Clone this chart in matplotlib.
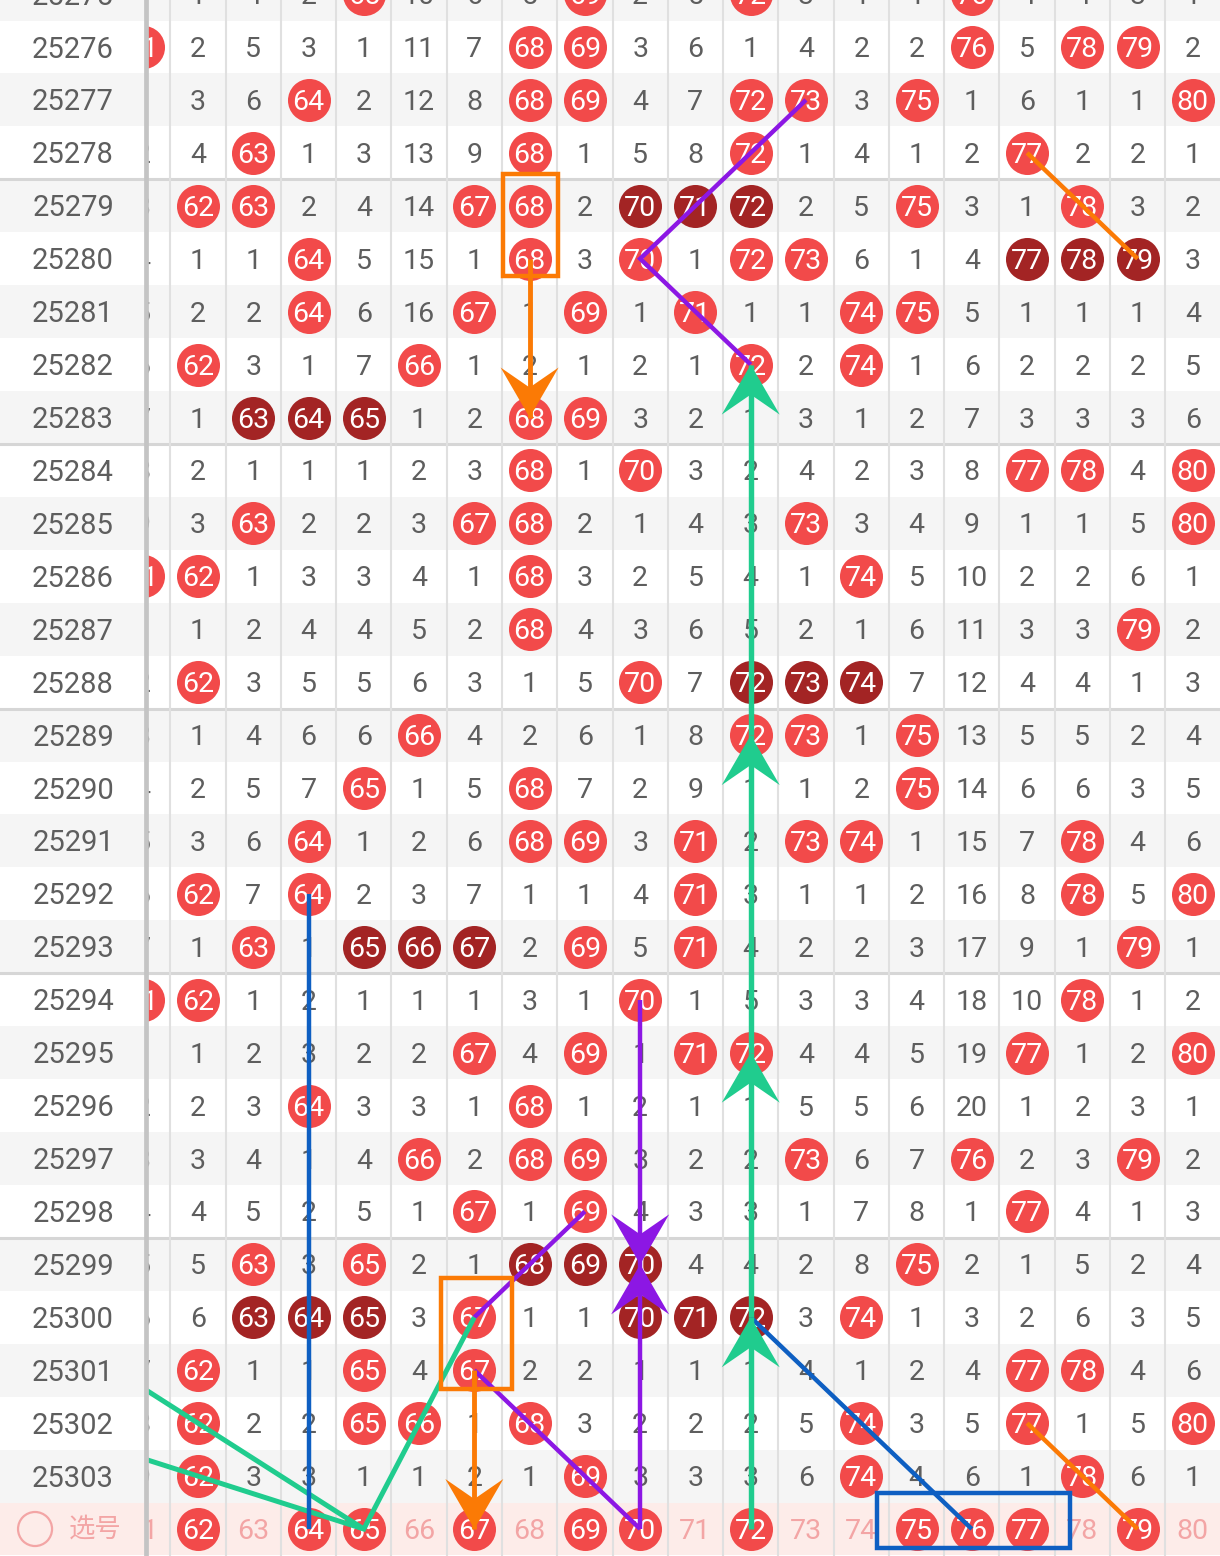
import matplotlib.pyplot as plt
from matplotlib.patches import Rectangle, Polygon

# issue numbers shown on the left, PICK is the selection row at the bottom
issues = list(range(25275, 25304))
PICK = 25304
numbers = list(range(61, 81))

# missed counts per issue for numbers 61..80, 0 = drawn in that issue
omission = [
    [9, 1, 4, 2, 0, 10, 6, 5, 0, 2, 5, 0, 3, 1, 1, 0, 4, 4, 3, 1],   # 25275
    [0, 2, 5, 3, 1, 11, 7, 0, 0, 3, 6, 1, 4, 2, 2, 0, 5, 0, 0, 2],   # 25276
    [1, 3, 6, 0, 2, 12, 8, 0, 0, 4, 7, 0, 0, 3, 0, 1, 6, 1, 1, 0],   # 25277
    [2, 4, 0, 1, 3, 13, 9, 0, 1, 5, 8, 0, 1, 4, 1, 2, 0, 2, 2, 1],   # 25278
    [3, 0, 0, 2, 4, 14, 0, 0, 2, 0, 0, 0, 2, 5, 0, 3, 1, 0, 3, 2],   # 25279
    [4, 1, 1, 0, 5, 15, 1, 0, 3, 0, 1, 0, 0, 6, 1, 4, 0, 0, 0, 3],   # 25280
    [5, 2, 2, 0, 6, 16, 0, 1, 0, 1, 0, 1, 1, 0, 0, 5, 1, 1, 1, 4],   # 25281
    [6, 0, 3, 1, 7, 0, 1, 2, 1, 2, 1, 0, 2, 0, 1, 6, 2, 2, 2, 5],    # 25282
    [7, 1, 0, 0, 0, 1, 2, 0, 0, 3, 2, 1, 3, 1, 2, 7, 3, 3, 3, 6],    # 25283
    [8, 2, 1, 1, 1, 2, 3, 0, 1, 0, 3, 2, 4, 2, 3, 8, 0, 0, 4, 0],    # 25284
    [9, 3, 0, 2, 2, 3, 0, 0, 2, 1, 4, 3, 0, 3, 4, 9, 1, 1, 5, 0],    # 25285
    [0, 0, 1, 3, 3, 4, 1, 0, 3, 2, 5, 4, 1, 0, 5, 10, 2, 2, 6, 1],   # 25286
    [1, 1, 2, 4, 4, 5, 2, 0, 4, 3, 6, 5, 2, 1, 6, 11, 3, 3, 0, 2],   # 25287
    [2, 0, 3, 5, 5, 6, 3, 1, 5, 0, 7, 0, 0, 0, 7, 12, 4, 4, 1, 3],   # 25288
    [3, 1, 4, 6, 6, 0, 4, 2, 6, 1, 8, 0, 0, 1, 0, 13, 5, 5, 2, 4],   # 25289
    [4, 2, 5, 7, 0, 1, 5, 0, 7, 2, 9, 1, 1, 2, 0, 14, 6, 6, 3, 5],   # 25290
    [5, 3, 6, 0, 1, 2, 6, 0, 0, 3, 0, 2, 0, 0, 1, 15, 7, 0, 4, 6],   # 25291
    [6, 0, 7, 0, 2, 3, 7, 1, 1, 4, 0, 3, 1, 1, 2, 16, 8, 0, 5, 0],   # 25292
    [7, 1, 0, 1, 0, 0, 0, 2, 0, 5, 0, 4, 2, 2, 3, 17, 9, 1, 0, 1],   # 25293
    [0, 0, 1, 2, 1, 1, 1, 3, 1, 0, 1, 5, 3, 3, 4, 18, 10, 0, 1, 2],  # 25294
    [1, 1, 2, 3, 2, 2, 0, 4, 0, 1, 0, 0, 4, 4, 5, 19, 0, 1, 2, 0],   # 25295
    [2, 2, 3, 0, 3, 3, 1, 0, 1, 2, 1, 1, 5, 5, 6, 20, 1, 2, 3, 1],   # 25296
    [3, 3, 4, 1, 4, 0, 2, 0, 0, 3, 2, 2, 0, 6, 7, 0, 2, 3, 0, 2],    # 25297
    [4, 4, 5, 2, 5, 1, 0, 1, 0, 4, 3, 3, 1, 7, 8, 1, 0, 4, 1, 3],    # 25298
    [5, 5, 0, 3, 0, 2, 1, 0, 0, 0, 4, 4, 2, 8, 0, 2, 1, 5, 2, 4],    # 25299
    [6, 6, 0, 0, 0, 3, 0, 1, 1, 0, 0, 0, 3, 0, 1, 3, 2, 6, 3, 5],    # 25300
    [7, 0, 1, 1, 0, 4, 0, 2, 2, 1, 1, 1, 4, 1, 2, 4, 0, 0, 4, 6],    # 25301
    [8, 0, 2, 2, 0, 0, 1, 0, 3, 2, 2, 2, 5, 0, 3, 5, 0, 1, 5, 0],    # 25302
    [9, 0, 3, 3, 1, 1, 2, 1, 0, 3, 3, 3, 6, 0, 4, 6, 1, 0, 6, 1],    # 25303
]

picked = [62, 64, 65, 67, 69, 70, 72, 75, 76, 77, 79]

# hand drawn marks: (number, issue) points
orange_paths = [[(77, 25278), (79, 25280)], [(77, 25302), (79, PICK)]]
orange_arrows = [((68, 25280), (68, 25283)), ((67, 25301), (67, PICK))]
purple_paths = [[(73, 25277), (70, 25280), (72, 25282)],
                [(67, 25300), (69, 25298)],
                [(67, 25301), (70, PICK)]]
purple_arrows = [((70, 25294), (70, 25299)), ((70, PICK), (70, 25299))]
green_arrows = [((72, PICK), (72, 25300)), ((72, 25300), (72, 25295)),
                ((72, 25295), (72, 25289)), ((72, 25289), (72, 25282))]
green_paths = [[(59, 25300), (65, PICK)], [(59, 25302), (65, PICK), (67, 25300)]]
blue_paths = [[(64, 25292), (64, PICK)], [(72, 25300), (76, PICK)]]
# boxes: (first number, last number, first issue, last issue)
orange_boxes = [(68, 68, 25279, 25280), (67, 67, 25300, 25301)]
blue_boxes = [(75, 77, PICK, PICK)]

RED = '#f24a4a'
DARK = '#a32424'
GRAY = '#5e5e5e'
PINK_TXT = '#f3a5a5'
PINK_BG = '#fdece9'
ORANGE = '#fb7a05'
PURPLE = '#8c17e4'
GREEN = '#20cc8e'
BLUE = '#0e5fc2'

plt.rcParams['font.family'] = ['Roboto', 'DejaVu Sans']

W, H = 1220, 1556
LEFT = 146
fig = plt.figure(figsize=(W / 100, H / 100), dpi=100)
ax = fig.add_axes([LEFT / W, 0, 1 - LEFT / W, 1])
ax_lab = fig.add_axes([0, 0, LEFT / W, 1])
ax_lab.set_zorder(3)

x0, x1 = 61.06, 80.49
y0, y1 = 29.51, 0.112
ax.set_xlim(x0, x1)
ax.set_ylim(y0, y1)
ax_lab.set_xlim(0, 1)
ax_lab.set_ylim(y0, y1)
px_x = (W - LEFT) / (x1 - x0)
px_y = H / (y0 - y1)
TY = 2.5 / px_y  # text sits a touch lower than the box centre


def row(issue):
    return issue - issues[0]


for a in (ax, ax_lab):
    a.set_xticks([])
    a.set_yticks([])
    for s in a.spines.values():
        s.set_visible(False)
    for i in range(len(issues)):
        a.axhspan(i - 0.5, i + 0.5, color='#f5f5f5' if i % 2 == 0 else 'white',
                  lw=0, zorder=0)
    a.axhspan(row(PICK) - 0.5, row(PICK) + 0.5, color=PINK_BG, lw=0, zorder=0)
    for k in range(1, 6):
        a.axhline(row(25278) + 0.5 + 5 * (k - 1), color='#d6d6d6', lw=2.2, zorder=1)

ax_lab.spines['right'].set_visible(True)
ax_lab.spines['right'].set_color('#c4c4c4')
ax_lab.spines['right'].set_linewidth(3.4)

for n in numbers[:-1]:
    ax.axvline(n + 0.5, color='#e0e0e0', lw=1.5, zorder=1)

CIRCLE = 960
FS = 20.5

for i, issue in enumerate(issues):
    vals = omission[i]
    hits = {n for n, v in zip(numbers, vals) if v == 0}
    for n, v in zip(numbers, vals):
        if v == 0:
            run = ({n - 1, n + 1} <= hits or {n - 2, n - 1} <= hits
                   or {n + 1, n + 2} <= hits)
            ax.scatter(n, i, s=CIRCLE, color=DARK if run else RED, lw=0, zorder=2)
            ax.text(n, i + TY, str(n), ha='center', va='center', fontsize=FS,
                    color='white', zorder=3, clip_on=True)
        else:
            ax.text(n, i + TY, str(v), ha='center', va='center', fontsize=FS,
                    color=GRAY, zorder=3, clip_on=True)
    ax_lab.text(0.5, i + TY, str(issue), ha='center', va='center', fontsize=FS + 0.5,
                color=GRAY, zorder=3, clip_on=True)

rp = row(PICK)
for n in numbers:
    if n in picked:
        ax.scatter(n, rp, s=CIRCLE, color=RED, lw=0, zorder=2)
        ax.text(n, rp + TY, str(n), ha='center', va='center', fontsize=FS,
                color='white', zorder=3, clip_on=True)
    else:
        ax.text(n, rp + TY, str(n), ha='center', va='center', fontsize=FS,
                color=PINK_TXT, zorder=3, clip_on=True)
ax_lab.scatter(0.24, rp, s=600, facecolor='none', edgecolor=PINK_TXT, lw=1.6, zorder=3)
ax_lab.text(0.65, rp, '选号', ha='center', va='center', fontsize=19,
            color=PINK_TXT, family=['Noto Sans CJK SC', 'DejaVu Sans'], zorder=3)


def path(points, color, lw=3.2):
    xs = [p[0] for p in points]
    ys = [row(p[1]) for p in points]
    ax.plot(xs, ys, color=color, lw=lw, solid_capstyle='butt',
            solid_joinstyle='miter', zorder=5)


def arrow(start, end, color, lw=3.2):
    path([start, end], color, lw)
    c, r = end[0], row(end[1])
    back = 1 if row(start[1]) > r else -1
    half, length, notch = 29, 50, 30
    pts = [(c, r), (c + half / px_x, r + back * length / px_y),
           (c, r + back * notch / px_y), (c - half / px_x, r + back * length / px_y)]
    ax.add_patch(Polygon(pts, closed=True, color=color, lw=0, zorder=6))


def box(b, color, pads):
    n0, n1, i0, i1 = b
    l, rgt, t, btm = pads
    ax.add_patch(Rectangle((n0 - l, row(i0) - t), n1 - n0 + l + rgt,
                           row(i1) - row(i0) + t + btm, fill=False,
                           edgecolor=color, lw=3.2, zorder=6))


for p in orange_paths:
    path(p, ORANGE)
for p in purple_paths:
    path(p, PURPLE)
for p in green_paths:
    path(p, GREEN, 3.6)
for p in blue_paths:
    path(p, BLUE)
for s, e in orange_arrows:
    arrow(s, e, ORANGE, 3.5)
for s, e in purple_arrows:
    arrow(s, e, PURPLE)
for s, e in green_arrows:
    arrow(s, e, GREEN, 3.9)

box(orange_boxes[0], ORANGE, (0.49, 0.52, 0.6, 0.33))
box(orange_boxes[1], ORANGE, (0.6, 0.68, 0.75, 0.35))
box(blue_boxes[0], BLUE, (0.72, 0.77, 0.68, 0.36))

fig.savefig('out.png', dpi=100)
